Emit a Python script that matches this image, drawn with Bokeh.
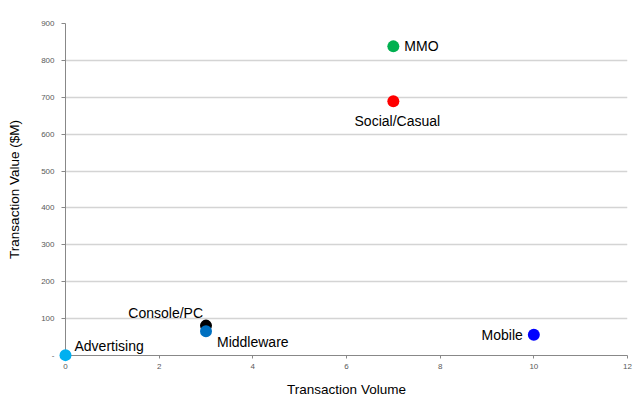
from bokeh.plotting import figure
from bokeh.models import Range1d, FixedTicker, ColumnDataSource
from bokeh.embed import file_html
from bokeh.resources import INLINE
from bokeh.core.properties import value

segments = ["MMO", "Social/Casual", "Console/PC", "Middleware", "Mobile", "Advertising"]
volume = [7, 7, 3, 3, 10, 0]
tx_value = [838, 689, 81, 66, 56, 1]
colors = ["#00B050", "#FF0000", "#000000", "#0070C0", "#0000FF", "#00B0F0"]

x_ticks = [0, 2, 4, 6, 8, 10, 12]
y_ticks = [0, 100, 200, 300, 400, 500, 600, 700, 800, 900]

# label placement (screen px offsets, alignment)
lab_dx = [11, 4, -3, 11, -11, 9]
lab_dy = [0, 20, -13, 11, 0, -9]
lab_align = ["left", "center", "right", "left", "right", "left"]

FONT = "Liberation Sans"

p = figure(width=640, height=406, output_backend="svg", toolbar_location=None,
           x_range=Range1d(0, 12), y_range=Range1d(0, 900),
           min_border_left=65, min_border_right=13, min_border_top=23, min_border_bottom=51)
p.outline_line_color = None
p.background_fill_color = "white"
p.border_fill_color = "white"

p.xgrid.grid_line_color = None
p.ygrid.grid_line_color = "#D4D4D4"
p.ygrid.grid_line_width = 1.5

p.xaxis.ticker = FixedTicker(ticks=x_ticks)
p.yaxis.ticker = FixedTicker(ticks=y_ticks)
p.yaxis.major_label_overrides = {0: "-"}

for ax in (p.xaxis, p.yaxis):
    ax.axis_line_color = "#888888"
    ax.major_tick_line_color = "#888888"
    ax.minor_tick_line_color = None
    ax.major_tick_in = 0
    ax.major_tick_out = 4
    ax.major_label_text_font = FONT
    ax.major_label_text_font_size = "8px"
    ax.major_label_text_color = "#595959"
    ax.axis_label_text_font = FONT
    ax.axis_label_text_font_size = "13.5px"
    ax.axis_label_text_font_style = "normal"
    ax.axis_label_text_color = "#000000"

p.xaxis.major_tick_out = 3
p.xaxis.major_label_standoff = 5
p.xaxis.axis_label_standoff = 10
p.yaxis.major_label_standoff = 7
p.yaxis.axis_label_standoff = 16
p.xaxis.axis_label = "Transaction Volume"
p.yaxis.axis_label = "Transaction Value ($M)"

src = ColumnDataSource(dict(x=volume, y=tx_value, c=colors, name=segments,
                            dx=lab_dx, dy=lab_dy, al=lab_align))
r = p.scatter("x", "y", source=src, size=12, fill_color="c", line_color=None)
r.level = "overlay"
t = p.text("x", "y", text="name", source=src, x_offset="dx", y_offset="dy",
           text_align="al", text_baseline="middle", text_font=value(FONT),
           text_font_size="14px", text_color="#000000")
t.level = "overlay"

open("out.html", "w").write(file_html(p, INLINE))
